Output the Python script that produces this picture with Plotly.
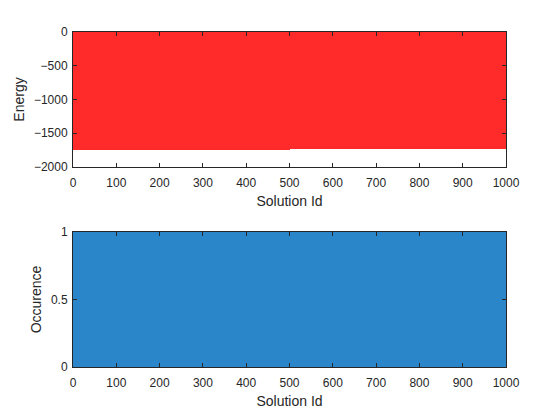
import numpy as np
import plotly.graph_objects as go
from plotly.subplots import make_subplots

# Solution ids 1..1000
solution_ids = list(range(1, 1001))
# Energy read per block of 50 solutions
energy_blocks = [-1750, -1749, -1748, -1747, -1746, -1745, -1744, -1743, -1742, -1741,
                 -1739, -1738, -1737, -1735, -1734, -1732, -1731, -1729, -1728, -1726]
energy = list(np.repeat(energy_blocks, 50))
# Occurrence: every solution occurs once
occurrence = [1] * 1000

x_ticks = [0, 100, 200, 300, 400, 500, 600, 700, 800, 900, 1000]
energy_ticks = [-2000, -1500, -1000, -500, 0]
occ_ticks = [0, 0.5, 1]

fig = make_subplots(rows=2, cols=1, vertical_spacing=0.194)

fig.add_trace(go.Bar(x=solution_ids, y=energy, marker=dict(color="#FF2A2A", line=dict(width=0)),
                     width=1.0, showlegend=False), row=1, col=1)
fig.add_trace(go.Bar(x=solution_ids, y=occurrence, marker=dict(color="#2A86C8", line=dict(width=0)),
                     width=1.0, showlegend=False), row=2, col=1)

axis_common = dict(showline=True, linecolor="#262626", linewidth=1, mirror="ticks",
                   ticks="inside", ticklen=4, tickcolor="#262626", showgrid=False, zeroline=False,
                   tickfont=dict(size=12, color="#262626"))

for r in (1, 2):
    fig.update_xaxes(range=[0, 1000], tickvals=x_ticks, ticklabelstandoff=5,
                     title=dict(text="Solution Id", font=dict(size=14, color="#262626"), standoff=6),
                     row=r, col=1, **axis_common)

fig.update_yaxes(range=[-2000, 0], tickvals=energy_ticks, ticklabelstandoff=2,
                 title=dict(text="Energy", font=dict(size=14, color="#262626"), standoff=5),
                 row=1, col=1, **axis_common)
fig.update_yaxes(range=[0, 1], tickvals=occ_ticks, ticktext=["0", "0.5", "1"], ticklabelstandoff=2,
                 title=dict(text="Occurence", font=dict(size=14, color="#262626"), standoff=5),
                 row=2, col=1, **axis_common)

fig.update_layout(width=560, height=420, margin=dict(l=73, r=54, t=32, b=53),
                  paper_bgcolor="white", plot_bgcolor="white", bargap=0,
                  font=dict(family="Liberation Sans, Arial, sans-serif", color="#262626"))
fig.layout.yaxis.domain = [0.597, 1.0]
fig.layout.yaxis2.domain = [0.0, 0.403]

fig.write_html("out.html")
